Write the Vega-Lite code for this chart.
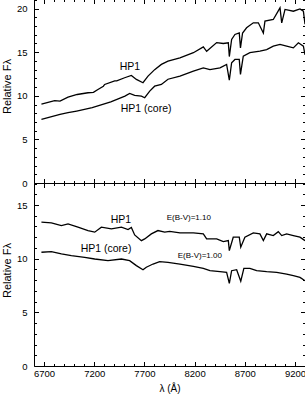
{
  "$schema": "https://vega.github.io/schema/vega-lite/v6.json",
  "padding": {"left": 0, "top": -2, "right": 0, "bottom": 0},
  "spacing": 0,
  "bounds": "flush",
  "config": {
    "view": {"stroke": "black", "strokeWidth": 1},
    "axis": {"labelFont": "Liberation Sans", "titleFont": "Liberation Sans", "labelFontSize": 9.5, "titleFontSize": 11, "titleFontWeight": "normal", "labelColor": "black", "titleColor": "black", "tickColor": "black", "tickWidth": 1, "domain": false, "grid": false, "labelOverlap": false, "labelFlush": false, "minExtent": 0},
    "text": {"font": "Liberation Sans", "color": "black"}
  },
  "datasets": {
    "top": [
      {"s": "hp1", "wl": 6674, "f": 9.05}, {"s": "hp1", "wl": 6806, "f": 9.45}, {"s": "hp1", "wl": 6859, "f": 9.4}, {"s": "hp1", "wl": 6939, "f": 9.85}, {"s": "hp1", "wl": 7030, "f": 10.15}, {"s": "hp1", "wl": 7138, "f": 10.35}, {"s": "hp1", "wl": 7192, "f": 10.4}, {"s": "hp1", "wl": 7237, "f": 10.73}, {"s": "hp1", "wl": 7291, "f": 11.1}, {"s": "hp1", "wl": 7304, "f": 11.3}, {"s": "hp1", "wl": 7404, "f": 11.7}, {"s": "hp1", "wl": 7424, "f": 11.7}, {"s": "hp1", "wl": 7503, "f": 12.07}, {"s": "hp1", "wl": 7570, "f": 12.33}, {"s": "hp1", "wl": 7620, "f": 11.88}, {"s": "hp1", "wl": 7686, "f": 11.5}, {"s": "hp1", "wl": 7736, "f": 12.26}, {"s": "hp1", "wl": 7802, "f": 13.0}, {"s": "hp1", "wl": 7869, "f": 13.6}, {"s": "hp1", "wl": 7935, "f": 13.98}, {"s": "hp1", "wl": 8054, "f": 14.36}, {"s": "hp1", "wl": 8188, "f": 14.94}, {"s": "hp1", "wl": 8287, "f": 15.6}, {"s": "hp1", "wl": 8320, "f": 15.1}, {"s": "hp1", "wl": 8420, "f": 16.1}, {"s": "hp1", "wl": 8486, "f": 16.0}, {"s": "hp1", "wl": 8536, "f": 16.08}, {"s": "hp1", "wl": 8546, "f": 14.5}, {"s": "hp1", "wl": 8569, "f": 16.46}, {"s": "hp1", "wl": 8602, "f": 17.03}, {"s": "hp1", "wl": 8645, "f": 17.2}, {"s": "hp1", "wl": 8657, "f": 15.5}, {"s": "hp1", "wl": 8678, "f": 17.2}, {"s": "hp1", "wl": 8718, "f": 17.8}, {"s": "hp1", "wl": 8785, "f": 18.37}, {"s": "hp1", "wl": 8835, "f": 18.37}, {"s": "hp1", "wl": 8885, "f": 17.2}, {"s": "hp1", "wl": 8901, "f": 18.56}, {"s": "hp1", "wl": 8984, "f": 18.75}, {"s": "hp1", "wl": 9051, "f": 20.09}, {"s": "hp1", "wl": 9068, "f": 18.37}, {"s": "hp1", "wl": 9101, "f": 19.9}, {"s": "hp1", "wl": 9184, "f": 19.7}, {"s": "hp1", "wl": 9250, "f": 19.97}, {"s": "hp1", "wl": 9284, "f": 19.7}, {"s": "hp1", "wl": 9300, "f": 18.2},
      {"s": "core", "wl": 6674, "f": 7.3}, {"s": "core", "wl": 6859, "f": 7.87}, {"s": "core", "wl": 6939, "f": 8.06}, {"s": "core", "wl": 7025, "f": 8.25}, {"s": "core", "wl": 7180, "f": 8.63}, {"s": "core", "wl": 7365, "f": 9.3}, {"s": "core", "wl": 7506, "f": 9.97}, {"s": "core", "wl": 7553, "f": 10.27}, {"s": "core", "wl": 7603, "f": 10.05}, {"s": "core", "wl": 7670, "f": 9.97}, {"s": "core", "wl": 7703, "f": 9.78}, {"s": "core", "wl": 7753, "f": 10.54}, {"s": "core", "wl": 7802, "f": 11.1}, {"s": "core", "wl": 7869, "f": 11.3}, {"s": "core", "wl": 7935, "f": 11.9}, {"s": "core", "wl": 8054, "f": 12.26}, {"s": "core", "wl": 8188, "f": 12.83}, {"s": "core", "wl": 8287, "f": 13.2}, {"s": "core", "wl": 8353, "f": 13.0}, {"s": "core", "wl": 8453, "f": 13.2}, {"s": "core", "wl": 8519, "f": 13.6}, {"s": "core", "wl": 8546, "f": 11.8}, {"s": "core", "wl": 8569, "f": 13.79}, {"s": "core", "wl": 8602, "f": 14.17}, {"s": "core", "wl": 8645, "f": 14.17}, {"s": "core", "wl": 8657, "f": 12.45}, {"s": "core", "wl": 8685, "f": 14.55}, {"s": "core", "wl": 8751, "f": 14.94}, {"s": "core", "wl": 8851, "f": 15.12}, {"s": "core", "wl": 8918, "f": 15.3}, {"s": "core", "wl": 8984, "f": 15.7}, {"s": "core", "wl": 9051, "f": 15.9}, {"s": "core", "wl": 9117, "f": 15.7}, {"s": "core", "wl": 9184, "f": 15.5}, {"s": "core", "wl": 9234, "f": 16.08}, {"s": "core", "wl": 9284, "f": 15.7}, {"s": "core", "wl": 9300, "f": 14.7}
    ],
    "bottom": [
      {"s": "hp1", "wl": 6674, "f": 13.4}, {"s": "hp1", "wl": 6773, "f": 13.34}, {"s": "hp1", "wl": 6873, "f": 13.08}, {"s": "hp1", "wl": 6939, "f": 13.24}, {"s": "hp1", "wl": 7038, "f": 12.93}, {"s": "hp1", "wl": 7138, "f": 12.62}, {"s": "hp1", "wl": 7205, "f": 12.47}, {"s": "hp1", "wl": 7271, "f": 12.93}, {"s": "hp1", "wl": 7371, "f": 12.78}, {"s": "hp1", "wl": 7471, "f": 12.93}, {"s": "hp1", "wl": 7537, "f": 12.71}, {"s": "hp1", "wl": 7570, "f": 12.9}, {"s": "hp1", "wl": 7603, "f": 12.21}, {"s": "hp1", "wl": 7670, "f": 11.68}, {"s": "hp1", "wl": 7703, "f": 11.84}, {"s": "hp1", "wl": 7769, "f": 12.31}, {"s": "hp1", "wl": 7835, "f": 12.62}, {"s": "hp1", "wl": 7902, "f": 12.47}, {"s": "hp1", "wl": 7952, "f": 12.55}, {"s": "hp1", "wl": 8054, "f": 12.4}, {"s": "hp1", "wl": 8188, "f": 12.4}, {"s": "hp1", "wl": 8287, "f": 12.31}, {"s": "hp1", "wl": 8320, "f": 11.84}, {"s": "hp1", "wl": 8420, "f": 11.84}, {"s": "hp1", "wl": 8486, "f": 11.59}, {"s": "hp1", "wl": 8536, "f": 11.68}, {"s": "hp1", "wl": 8546, "f": 10.75}, {"s": "hp1", "wl": 8585, "f": 12.0}, {"s": "hp1", "wl": 8645, "f": 12.0}, {"s": "hp1", "wl": 8660, "f": 11.07}, {"s": "hp1", "wl": 8701, "f": 12.0}, {"s": "hp1", "wl": 8785, "f": 12.4}, {"s": "hp1", "wl": 8851, "f": 12.31}, {"s": "hp1", "wl": 8885, "f": 11.68}, {"s": "hp1", "wl": 8918, "f": 12.31}, {"s": "hp1", "wl": 8984, "f": 12.15}, {"s": "hp1", "wl": 9034, "f": 12.52}, {"s": "hp1", "wl": 9068, "f": 12.15}, {"s": "hp1", "wl": 9117, "f": 12.31}, {"s": "hp1", "wl": 9184, "f": 12.15}, {"s": "hp1", "wl": 9250, "f": 12.0}, {"s": "hp1", "wl": 9300, "f": 11.68},
      {"s": "core", "wl": 6674, "f": 10.6}, {"s": "core", "wl": 6773, "f": 10.66}, {"s": "core", "wl": 6873, "f": 10.44}, {"s": "core", "wl": 6972, "f": 10.28}, {"s": "core", "wl": 7105, "f": 10.13}, {"s": "core", "wl": 7205, "f": 9.97}, {"s": "core", "wl": 7337, "f": 9.81}, {"s": "core", "wl": 7471, "f": 9.97}, {"s": "core", "wl": 7553, "f": 9.81}, {"s": "core", "wl": 7620, "f": 9.35}, {"s": "core", "wl": 7686, "f": 8.97}, {"s": "core", "wl": 7719, "f": 9.2}, {"s": "core", "wl": 7786, "f": 9.5}, {"s": "core", "wl": 7852, "f": 9.72}, {"s": "core", "wl": 7935, "f": 9.66}, {"s": "core", "wl": 8054, "f": 9.5}, {"s": "core", "wl": 8188, "f": 9.29}, {"s": "core", "wl": 8287, "f": 9.1}, {"s": "core", "wl": 8353, "f": 8.88}, {"s": "core", "wl": 8453, "f": 8.79}, {"s": "core", "wl": 8519, "f": 8.73}, {"s": "core", "wl": 8546, "f": 7.7}, {"s": "core", "wl": 8569, "f": 8.88}, {"s": "core", "wl": 8619, "f": 8.97}, {"s": "core", "wl": 8660, "f": 7.9}, {"s": "core", "wl": 8691, "f": 9.1}, {"s": "core", "wl": 8751, "f": 9.1}, {"s": "core", "wl": 8818, "f": 8.88}, {"s": "core", "wl": 8918, "f": 8.79}, {"s": "core", "wl": 9018, "f": 8.73}, {"s": "core", "wl": 9117, "f": 8.57}, {"s": "core", "wl": 9184, "f": 8.41}, {"s": "core", "wl": 9250, "f": 8.26}, {"s": "core", "wl": 9300, "f": 7.94}
    ]
  },
  "vconcat": [
    {
      "width": 271, "height": 184,
      "resolve": {"axis": {"x": "independent", "y": "independent"}},
      "layer": [
        {
          "data": {"name": "top"},
          "mark": {"type": "line", "color": "black", "strokeWidth": 1.3, "clip": true},
          "encoding": {
            "x": {"field": "wl", "type": "quantitative", "scale": {"domain": [6600, 9300], "nice": false, "zero": false},
              "axis": {"orient": "bottom", "title": null, "labels": false, "ticks": false, "values": [6700]}},
            "y": {"field": "f", "type": "quantitative", "scale": {"domain": [0, 21.1], "nice": false},
              "axis": {"orient": "left", "title": "Relative Fλ", "titleX": -27, "titleY": 87, "titleBaseline": "middle", "format": "d", "labelPadding": 7, "ticks": false, "values": [0, 5, 10, 15, 20]}},
            "detail": {"field": "s"}
          }
        },
        {
          "data": {"name": "top"},
          "mark": {"type": "line", "opacity": 0},
          "encoding": {
            "x": {"field": "wl", "type": "quantitative", "axis": {"orient": "bottom", "title": null, "labels": false, "tickSize": -4.5, "values": [6700, 7200, 7700, 8200, 8700, 9200]}},
            "y": {"field": "f", "type": "quantitative", "axis": {"orient": "left", "title": null, "labels": false, "tickSize": -4.5, "values": [0, 5, 10, 15, 20]}},
            "detail": {"field": "s"}
          }
        },
        {
          "data": {"name": "top"},
          "mark": {"type": "line", "opacity": 0},
          "encoding": {
            "x": {"field": "wl", "type": "quantitative", "axis": {"orient": "bottom", "title": null, "labels": false, "tickSize": -2.5, "values": [6800,6900,7000,7100,7300,7400,7500,7600,7800,7900,8000,8100,8300,8400,8500,8600,8800,8900,9000,9100]}},
            "y": {"field": "f", "type": "quantitative", "axis": {"orient": "left", "title": null, "labels": false, "tickSize": -2.5, "values": [1,2,3,4,6,7,8,9,11,12,13,14,16,17,18,19,21]}},
            "detail": {"field": "s"}
          }
        },
        {
          "data": {"name": "top"},
          "mark": {"type": "line", "opacity": 0},
          "encoding": {
            "x": {"field": "wl", "type": "quantitative", "axis": {"orient": "top", "title": null, "labels": false, "tickSize": -4.5, "values": [6700, 7200, 7700, 8200, 8700, 9200]}},
            "y": {"field": "f", "type": "quantitative", "axis": {"orient": "right", "title": null, "labels": false, "tickSize": -4.5, "values": [0, 5, 10, 15, 20]}},
            "detail": {"field": "s"}
          }
        },
        {
          "data": {"name": "top"},
          "mark": {"type": "line", "opacity": 0},
          "encoding": {
            "x": {"field": "wl", "type": "quantitative", "axis": {"orient": "top", "title": null, "labels": false, "tickSize": -2.5, "values": [6800,6900,7000,7100,7300,7400,7500,7600,7800,7900,8000,8100,8300,8400,8500,8600,8800,8900,9000,9100]}},
            "y": {"field": "f", "type": "quantitative", "axis": {"orient": "right", "title": null, "labels": false, "tickSize": -2.5, "values": [1,2,3,4,6,7,8,9,11,12,13,14,16,17,18,19,21]}},
            "detail": {"field": "s"}
          }
        },
        {
          "data": {"values": [{"wl": 7454, "f": 13.3, "t": "HP1"}, {"wl": 7464, "f": 8.45, "t": "HP1 (core)"}]},
          "mark": {"type": "text", "align": "left", "baseline": "middle", "fontSize": 10.5},
          "encoding": {
            "x": {"field": "wl", "type": "quantitative", "axis": null},
            "y": {"field": "f", "type": "quantitative", "axis": null},
            "text": {"field": "t"}
          }
        }
      ]
    },
    {
      "width": 271, "height": 183,
      "resolve": {"axis": {"x": "independent", "y": "independent"}},
      "layer": [
        {
          "data": {"name": "bottom"},
          "mark": {"type": "line", "color": "black", "strokeWidth": 1.3, "clip": true},
          "encoding": {
            "x": {"field": "wl", "type": "quantitative", "scale": {"domain": [6600, 9300], "nice": false, "zero": false},
              "axis": {"orient": "bottom", "title": "λ (Å)", "titleFontSize": 10, "titlePadding": 6, "format": "d", "labelPadding": 2, "ticks": false, "values": [6700, 7200, 7700, 8200, 8700, 9200]}},
            "y": {"field": "f", "type": "quantitative", "scale": {"domain": [0, 17.05], "nice": false},
              "axis": {"orient": "left", "title": "Relative Fλ", "titleX": -27, "titleY": 87, "titleBaseline": "middle", "format": "d", "labelPadding": 7, "ticks": false, "values": [0, 5, 10, 15]}},
            "detail": {"field": "s"}
          }
        },
        {
          "data": {"name": "bottom"},
          "mark": {"type": "line", "opacity": 0},
          "encoding": {
            "x": {"field": "wl", "type": "quantitative", "axis": {"orient": "bottom", "title": null, "labels": false, "tickSize": -4.5, "values": [6700, 7200, 7700, 8200, 8700, 9200]}},
            "y": {"field": "f", "type": "quantitative", "axis": {"orient": "left", "title": null, "labels": false, "tickSize": -4.5, "values": [0, 5, 10, 15]}},
            "detail": {"field": "s"}
          }
        },
        {
          "data": {"name": "bottom"},
          "mark": {"type": "line", "opacity": 0},
          "encoding": {
            "x": {"field": "wl", "type": "quantitative", "axis": {"orient": "bottom", "title": null, "labels": false, "tickSize": -2.5, "values": [6800,6900,7000,7100,7300,7400,7500,7600,7800,7900,8000,8100,8300,8400,8500,8600,8800,8900,9000,9100]}},
            "y": {"field": "f", "type": "quantitative", "axis": {"orient": "left", "title": null, "labels": false, "tickSize": -2.5, "values": [1,2,3,4,6,7,8,9,11,12,13,14,16,17]}},
            "detail": {"field": "s"}
          }
        },
        {
          "data": {"name": "bottom"},
          "mark": {"type": "line", "opacity": 0},
          "encoding": {
            "x": {"field": "wl", "type": "quantitative", "axis": {"orient": "top", "title": null, "labels": false, "tickSize": -4.5, "values": [6700, 7200, 7700, 8200, 8700, 9200]}},
            "y": {"field": "f", "type": "quantitative", "axis": {"orient": "right", "title": null, "labels": false, "tickSize": -4.5, "values": [0, 5, 10, 15]}},
            "detail": {"field": "s"}
          }
        },
        {
          "data": {"name": "bottom"},
          "mark": {"type": "line", "opacity": 0},
          "encoding": {
            "x": {"field": "wl", "type": "quantitative", "axis": {"orient": "top", "title": null, "labels": false, "tickSize": -2.5, "values": [6800,6900,7000,7100,7300,7400,7500,7600,7800,7900,8000,8100,8300,8400,8500,8600,8800,8900,9000,9100]}},
            "y": {"field": "f", "type": "quantitative", "axis": {"orient": "right", "title": null, "labels": false, "tickSize": -2.5, "values": [1,2,3,4,6,7,8,9,11,12,13,14,16,17]}},
            "detail": {"field": "s"}
          }
        },
        {
          "data": {"values": [{"wl": 7364, "f": 13.6, "t": "HP1"}, {"wl": 7065, "f": 10.9, "t": "HP1 (core)"}]},
          "mark": {"type": "text", "align": "left", "baseline": "middle", "fontSize": 10.5},
          "encoding": {
            "x": {"field": "wl", "type": "quantitative", "axis": null},
            "y": {"field": "f", "type": "quantitative", "axis": null},
            "text": {"field": "t"}
          }
        },
        {
          "data": {"values": [{"wl": 7922, "f": 13.8, "t": "E(B-V)=1.10"}, {"wl": 8031, "f": 10.25, "t": "E(B-V)=1.00"}]},
          "mark": {"type": "text", "align": "left", "baseline": "middle", "fontSize": 8},
          "encoding": {
            "x": {"field": "wl", "type": "quantitative", "axis": null},
            "y": {"field": "f", "type": "quantitative", "axis": null},
            "text": {"field": "t"}
          }
        }
      ]
    }
  ]
}
